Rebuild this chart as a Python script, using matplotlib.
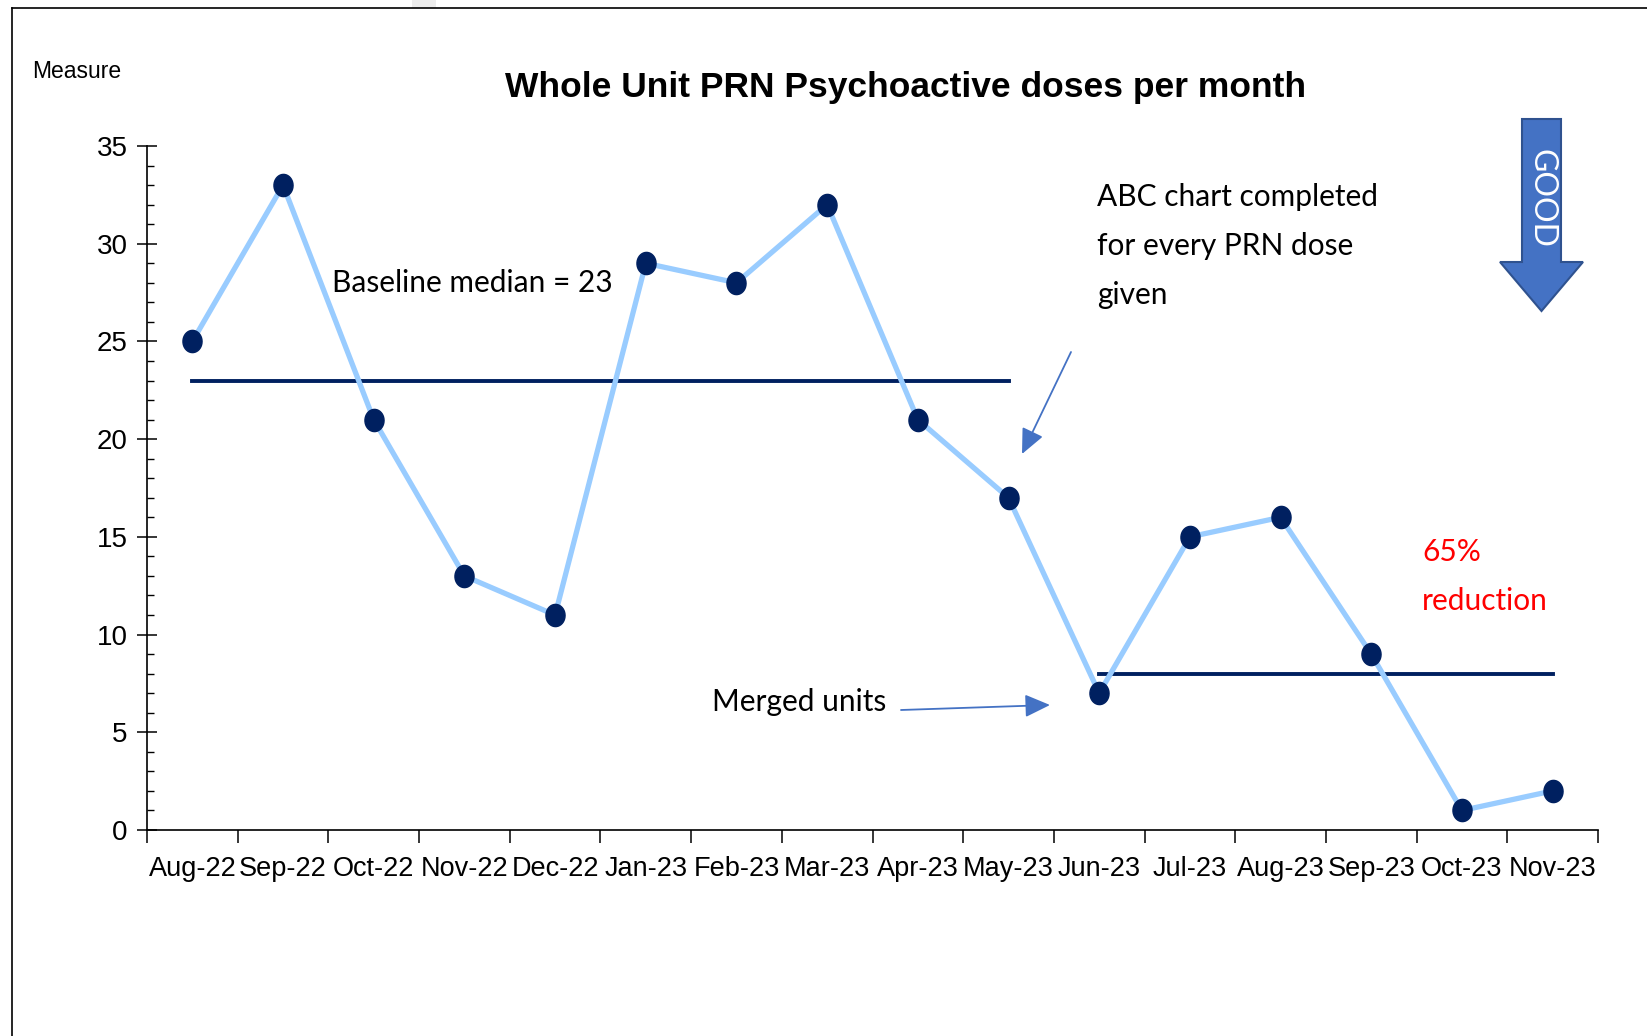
import numpy as np
import matplotlib
matplotlib.use('Agg')
import matplotlib.pyplot as plt
from matplotlib.path import Path
from matplotlib.patches import Polygon, Rectangle
from matplotlib.lines import Line2D

months = ['Aug-22', 'Sep-22', 'Oct-22', 'Nov-22', 'Dec-22', 'Jan-23', 'Feb-23', 'Mar-23',
          'Apr-23', 'May-23', 'Jun-23', 'Jul-23', 'Aug-23', 'Sep-23', 'Oct-23', 'Nov-23']
doses = [25, 33, 21, 13, 11, 29, 28, 32, 21, 17, 7, 15, 16, 9, 1, 2]

baseline_median = 23
baseline_span = (0, 9)     # Aug-22 .. May-23
new_median = 8
new_span = (10, 15)        # Jun-23 .. Nov-23

W, H = 1647, 1036
fig = plt.figure(figsize=(W / 100, H / 100), dpi=100)

def fx(px):
    return px / W

def fy(py):
    return 1 - py / H

# outer frame of the pasted chart
fig.add_artist(Line2D([fx(12), 1], [fy(8), fy(8)], color='black', lw=1.2))
fig.add_artist(Line2D([fx(12), fx(12)], [fy(8), 0], color='black', lw=1.2))
fig.add_artist(Rectangle((fx(412), fy(8)), fx(24), 8 / H, color='#ececec', lw=0))

ax = fig.add_axes([147 / W, (H - 830) / H, (1598 - 147) / W, (830 - 146) / H])

x = np.arange(len(months))

# slightly tall ellipse marker
t = np.linspace(0, 2 * np.pi, 40)
ell = Path(np.column_stack([0.86 * np.cos(t), np.sin(t)]), closed=True)

ax.plot(x, doses, color='#99ccff', lw=3.8, zorder=2)
ax.plot(x, doses, ls='none', marker=ell, ms=16, color='#002060', zorder=3)

ax.plot(baseline_span, [baseline_median] * 2, color='#002060', lw=2.8, zorder=1)
ax.plot(new_span, [new_median] * 2, color='#002060', lw=2.8, zorder=1)

ax.set_xlim(-0.5, len(months) - 0.5)
ax.set_ylim(0, 35)
for s in ['top', 'right']:
    ax.spines[s].set_visible(False)
for s in ['left', 'bottom']:
    ax.spines[s].set_linewidth(1.2)

ax.set_yticks(np.arange(0, 36, 5))
ax.set_yticks(np.arange(0, 36, 1), minor=True)
ax.tick_params(axis='y', which='major', direction='inout', length=14, width=1.1,
               pad=7, labelsize=20)
ax.tick_params(axis='y', which='minor', direction='in', length=5, width=1)

ax.set_xticks(np.arange(-0.5, len(months), 1))
ax.set_xticklabels([])
ax.set_xticks(x, minor=True)
ax.set_xticklabels(months, minor=True)
ax.tick_params(axis='x', which='major', direction='out', length=9, width=1.1)
ax.tick_params(axis='x', which='minor', length=0, pad=19, labelsize=19.5)

for lab in ax.get_xticklabels(minor=True) + ax.get_yticklabels():
    lab.set_family('Liberation Sans')

fig.text(fx(906), fy(88), 'Whole Unit PRN Psychoactive doses per month', ha='center',
         va='center', fontsize=25.5, fontweight='bold', family='Liberation Sans')
fig.text(fx(32), fy(72), 'Measure', ha='left', va='center', fontsize=16.5,
         family='Liberation Sans')

cal = ['Lato', 'DejaVu Sans']
fs = 21.5
fig.text(fx(332), fy(283), 'Baseline median = 23', ha='left', va='center',
         fontsize=fs, family=cal)
fig.text(fx(1097), fy(197), 'ABC chart completed', ha='left', va='center', fontsize=fs, family=cal)
fig.text(fx(1097), fy(246), 'for every PRN dose', ha='left', va='center', fontsize=fs, family=cal)
fig.text(fx(1097), fy(295), 'given', ha='left', va='center', fontsize=fs, family=cal)
fig.text(fx(712), fy(702), 'Merged units', ha='left', va='center', fontsize=fs, family=cal)
fig.text(fx(1422), fy(552), '65%', ha='left', va='center', fontsize=fs, family=cal,
         color='#ff0000')
fig.text(fx(1422), fy(601), 'reduction', ha='left', va='center', fontsize=fs, family=cal,
         color='#ff0000')

arrow_kw = dict(arrowstyle='-|>,head_length=1.1,head_width=0.5', color='#4472c4',
                lw=1.3, mutation_scale=14, shrinkA=0, shrinkB=0)
ax.annotate('', xy=(1022, H - 454), xycoords='figure pixels',
            xytext=(1071, H - 352), textcoords='figure pixels', arrowprops=arrow_kw)
ax.annotate('', xy=(1050, H - 705), xycoords='figure pixels',
            xytext=(901, H - 710), textcoords='figure pixels', arrowprops=arrow_kw)

# GOOD direction arrow
good = [(1522, 119), (1561, 119), (1561, 262), (1583, 262), (1541.5, 311),
        (1500, 262), (1522, 262)]
fig.add_artist(Polygon([(fx(a), fy(b)) for a, b in good], closed=True,
                       facecolor='#4472c4', edgecolor='#2f528f', lw=1.5))
fig.text(fx(1542), fy(198), 'GOOD', rotation=270, ha='center', va='center',
         color='white', fontsize=23, family=cal)

fig.savefig('out.png', dpi=100)
